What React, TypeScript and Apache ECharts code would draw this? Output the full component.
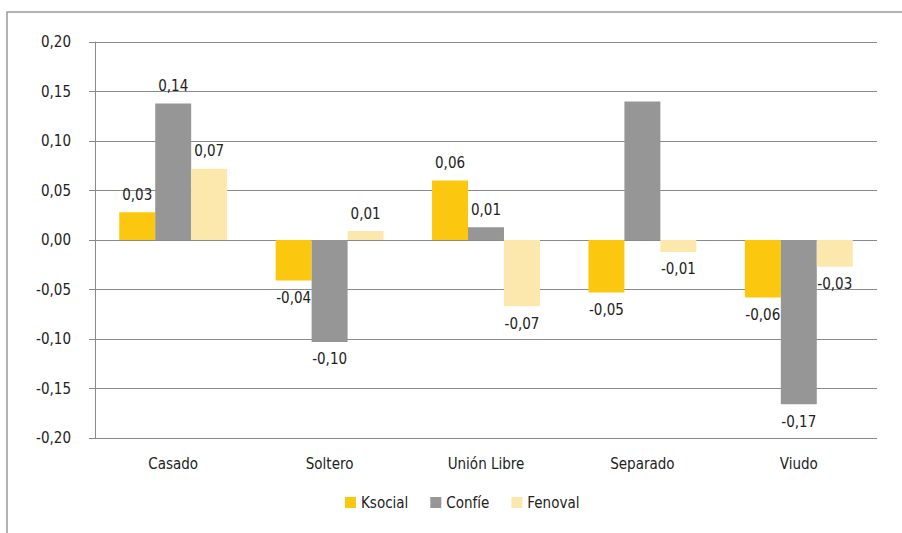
import React, { useEffect, useRef } from "react";
import * as echarts from "echarts";

const categories = ["Casado", "Soltero", "Unión Libre", "Separado", "Viudo"];
const seriesNames = ["Ksocial", "Confíe", "Fenoval"];
const ksocial = [0.028, -0.041, 0.06, -0.053, -0.058];
const confie = [0.138, -0.103, 0.013, 0.14, -0.166];
const fenoval = [0.072, 0.009, -0.067, -0.012, -0.027];
const showLabel = [
  [true, true, true, true, true],
  [true, true, true, false, true],
  [true, true, true, true, true],
];
const colors = ["#FCC80F", "#969696", "#FCE8AC"];
const yTicks = { min: -0.2, max: 0.2, interval: 0.05 };

const FONT = "'Liberation Sans Narrow', 'DejaVu Sans Condensed', 'Roboto Condensed', sans-serif";
const fmt = (v: number) => v.toFixed(2).replace(".", ",");

export default function App() {
  const ref = useRef<HTMLDivElement>(null);
  useEffect(() => {
    document.body.style.margin = "0";
    if (!ref.current) return;
    const chart = echarts.init(ref.current, undefined, { renderer: "svg" });
    const all = [ksocial, confie, fenoval];
    chart.setOption({
      animation: false,
      backgroundColor: "#ffffff",
      textStyle: { fontFamily: FONT },
      graphic: [
        {
          type: "rect",
          shape: { x: 7, y: 12, width: 1000, height: 600 },
          style: { fill: "none", stroke: "#9a9a9a", lineWidth: 1.5 },
        },
      ],
      grid: { left: 95, right: 25, top: 42, bottom: 95 },
      legend: {
        data: seriesNames,
        bottom: 18,
        left: 340,
        itemWidth: 11,
        itemHeight: 11,
        itemGap: 22,
        icon: "rect",
        textStyle: { fontFamily: FONT, fontSize: 15, color: "#222" },
      },
      xAxis: {
        type: "category",
        data: categories,
        axisLine: { show: false },
        axisTick: { show: false },
        axisLabel: { fontFamily: FONT, fontSize: 15, color: "#222", margin: 18 },
      },
      yAxis: {
        type: "value",
        min: yTicks.min,
        max: yTicks.max,
        interval: yTicks.interval,
        axisLine: { show: true, lineStyle: { color: "#8a8a8a", width: 1 } },
        axisTick: { show: true, length: 6, lineStyle: { color: "#8a8a8a" } },
        splitLine: { show: true, lineStyle: { color: "#8a8a8a", width: 1 } },
        axisLabel: {
          fontFamily: FONT,
          fontSize: 15,
          color: "#222",
          margin: 24,
          formatter: (v: number) => fmt(v),
        },
      },
      series: seriesNames.map((name, si) => ({
        name,
        type: "bar",
        barGap: "0%",
        barCategoryGap: "31%",
        itemStyle: { color: colors[si] },
        data: all[si].map((v, ci) => ({
          value: v,
          label: {
            show: showLabel[si][ci],
            position: v >= 0 ? "top" : "bottom",
            distance: 10,
            fontFamily: FONT,
            fontSize: 15,
            color: "#222",
            formatter: () => fmt(v),
          },
        })),
      })),
    });
    return () => chart.dispose();
  }, []);
  return <div ref={ref} style={{ width: 902, height: 533 }} />;
}
